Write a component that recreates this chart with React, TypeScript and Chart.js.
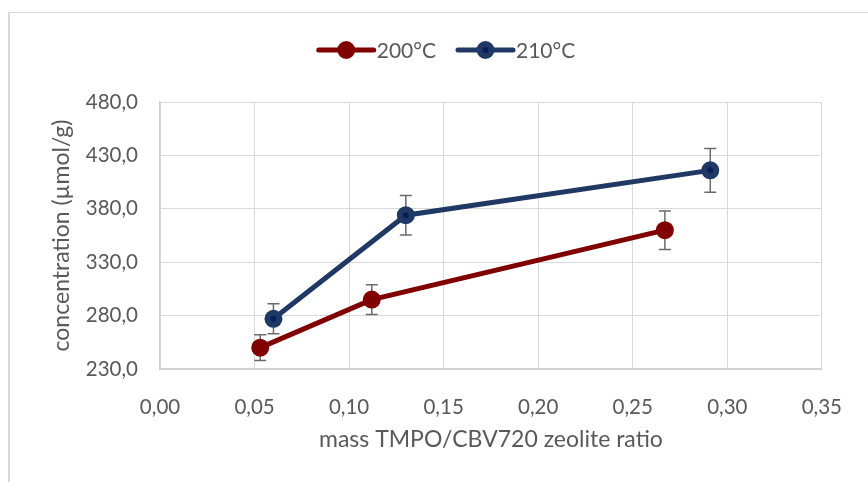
import React, { useEffect, useRef } from "react";
import { Chart, registerables } from "chart.js";

Chart.register(...registerables);

const seriesLabels = ["200°C", "210°C"];
const ratio200 = [0.053, 0.112, 0.267];
const conc200 = [250, 295, 360];
const err200 = [12, 14, 18];
const ratio210 = [0.06, 0.13, 0.291];
const conc210 = [277, 374, 416];
const err210 = [14, 18.5, 20.5];
const xTicks = [0, 0.05, 0.1, 0.15, 0.2, 0.25, 0.3, 0.35];
const yTicks = [230, 280, 330, 380, 430, 480];
const xTitle = "mass TMPO/CBV720 zeolite ratio";
const yTitle = "concentration (µmol/g)";

const FONT = "Lato";
const TEXT = "#595959";
const GRID = "#d9d9d9";
const RED = "#800000";
const BLUE_LINE = "#1f3864";
const BLUE_DOT = "#0a1e5a";

const errors = [err200, err210];

const errorBarPlugin = {
  id: "errorBars",
  beforeDatasetsDraw(chart: any) {
    const { ctx, scales } = chart;
    const y = scales.y;
    ctx.save();
    ctx.strokeStyle = "#6b6b6b";
    ctx.lineWidth = 1.5;
    chart.data.datasets.forEach((ds: any, i: number) => {
      const meta = chart.getDatasetMeta(i);
      meta.data.forEach((pt: any, j: number) => {
        const v = ds.data[j].y;
        const e = errors[i][j];
        const px = pt.x;
        const yTop = y.getPixelForValue(v + e);
        const yBot = y.getPixelForValue(v - e);
        ctx.beginPath();
        ctx.moveTo(px, yTop);
        ctx.lineTo(px, yBot);
        ctx.moveTo(px - 6, yTop);
        ctx.lineTo(px + 6, yTop);
        ctx.moveTo(px - 6, yBot);
        ctx.lineTo(px + 6, yBot);
        ctx.stroke();
      });
    });
    ctx.restore();
  },
};

const titlesPlugin = {
  id: "axisTitles",
  afterDraw(chart: any) {
    const { ctx, chartArea } = chart;
    const cx = (chartArea.left + chartArea.right) / 2;
    const cy = (chartArea.top + chartArea.bottom) / 2;
    ctx.save();
    ctx.fillStyle = TEXT;
    ctx.textAlign = "center";
    ctx.textBaseline = "middle";
    ctx.font = `23px ${FONT}`;
    ctx.fillText(xTitle, cx, 440);
    ctx.translate(62, cy);
    ctx.rotate(-Math.PI / 2);
    ctx.fillText(yTitle, 0, 0);
    ctx.restore();
  },
};

const legendPlugin = {
  id: "customLegend",
  afterDraw(chart: any) {
    const { ctx } = chart;
    const ds = chart.data.datasets;
    ctx.save();
    ctx.font = `21px ${FONT}`;
    ctx.textBaseline = "middle";
    const lineW = 55;
    const gapText = 3;
    const gapItem = 22;
    const widths = ds.map((d: any) => lineW + gapText + ctx.measureText(d.label).width);
    const total = widths.reduce((a: number, b: number) => a + b, 0) + gapItem * (ds.length - 1);
    let x = 447 - total / 2;
    const yc = 50;
    ds.forEach((d: any, i: number) => {
      ctx.strokeStyle = d.borderColor;
      ctx.lineWidth = 5;
      ctx.lineCap = "round";
      ctx.beginPath();
      ctx.moveTo(x, yc);
      ctx.lineTo(x + lineW, yc);
      ctx.stroke();
      ctx.beginPath();
      ctx.arc(x + lineW / 2, yc, 6, 0, Math.PI * 2);
      ctx.fillStyle = d.pointBackgroundColor;
      ctx.fill();
      ctx.lineWidth = 6;
      ctx.strokeStyle = d.pointBorderColor;
      ctx.stroke();
      ctx.fillStyle = TEXT;
      ctx.textAlign = "left";
      ctx.fillText(d.label, x + lineW + gapText, yc + 1);
      x += widths[i] + gapItem;
    });
    ctx.restore();
  },
};

const fmt = (v: number, d: number) => v.toFixed(d).replace(".", ",");

export default function App() {
  const ref = useRef<HTMLCanvasElement>(null);
  useEffect(() => {
    if (!ref.current) return;
    const chart = new Chart(ref.current, {
      type: "line",
      data: {
        datasets: [
          {
            label: seriesLabels[0],
            data: ratio200.map((x, i) => ({ x, y: conc200[i] })),
            borderColor: RED,
            backgroundColor: RED,
            pointBackgroundColor: RED,
            pointBorderColor: RED,
            borderWidth: 5,
            pointRadius: 6,
            pointBorderWidth: 6,
            tension: 0,
          },
          {
            label: seriesLabels[1],
            data: ratio210.map((x, i) => ({ x, y: conc210[i] })),
            borderColor: BLUE_LINE,
            backgroundColor: BLUE_LINE,
            pointBackgroundColor: BLUE_DOT,
            pointBorderColor: BLUE_LINE,
            borderWidth: 5,
            pointRadius: 6,
            pointBorderWidth: 6,
            tension: 0,
          },
        ],
      },
      options: {
        animation: false,
        responsive: false,
        layout: { padding: { left: 0, top: 102, right: 41, bottom: 0 } },
        plugins: { legend: { display: false }, tooltip: { enabled: false } },
        scales: {
          x: {
            type: "linear",
            min: 0,
            max: 0.35,
            afterBuildTicks: (s: any) => {
              s.ticks = xTicks.map((v) => ({ value: v }));
            },
            afterFit: (s: any) => {
              s.height = 113;
            },
            grid: { color: GRID, lineWidth: 1, drawTicks: false, tickLength: 0 },
            border: { color: "#cfcfcf", width: 1.5 },
            ticks: {
              padding: 26,
              color: TEXT,
              font: { family: FONT, size: 20.5 },
              maxRotation: 0,
              autoSkip: false,
              callback: (v: any) => fmt(Number(v), 2),
            },
            title: { display: false },
          },
          y: {
            type: "linear",
            min: 230,
            max: 480,
            afterBuildTicks: (s: any) => {
              s.ticks = yTicks.map((v) => ({ value: v }));
            },
            afterFit: (s: any) => {
              s.width = 160;
            },
            grid: { color: GRID, lineWidth: 1, drawTicks: false, tickLength: 0 },
            border: { color: "#cfcfcf", width: 1.5 },
            ticks: {
              padding: 22,
              color: TEXT,
              font: { family: FONT, size: 20.5 },
              callback: (v: any) => fmt(Number(v), 1),
            },
            title: { display: false },
          },
        },
      },
      plugins: [errorBarPlugin, legendPlugin, titlesPlugin],
    });
    return () => chart.destroy();
  }, []);

  return (
    <>
      <div
        style={{
          position: "absolute",
          left: 8,
          top: 12,
          width: 900,
          height: 500,
          borderTop: "1px solid #d9d9d9",
          borderLeft: "2px solid #d9d9d9",
        }}
      />
      <canvas
        ref={ref}
        width={868}
        height={482}
        style={{ position: "absolute", left: 0, top: 0, width: 868, height: 482 }}
      />
    </>
  );
}
